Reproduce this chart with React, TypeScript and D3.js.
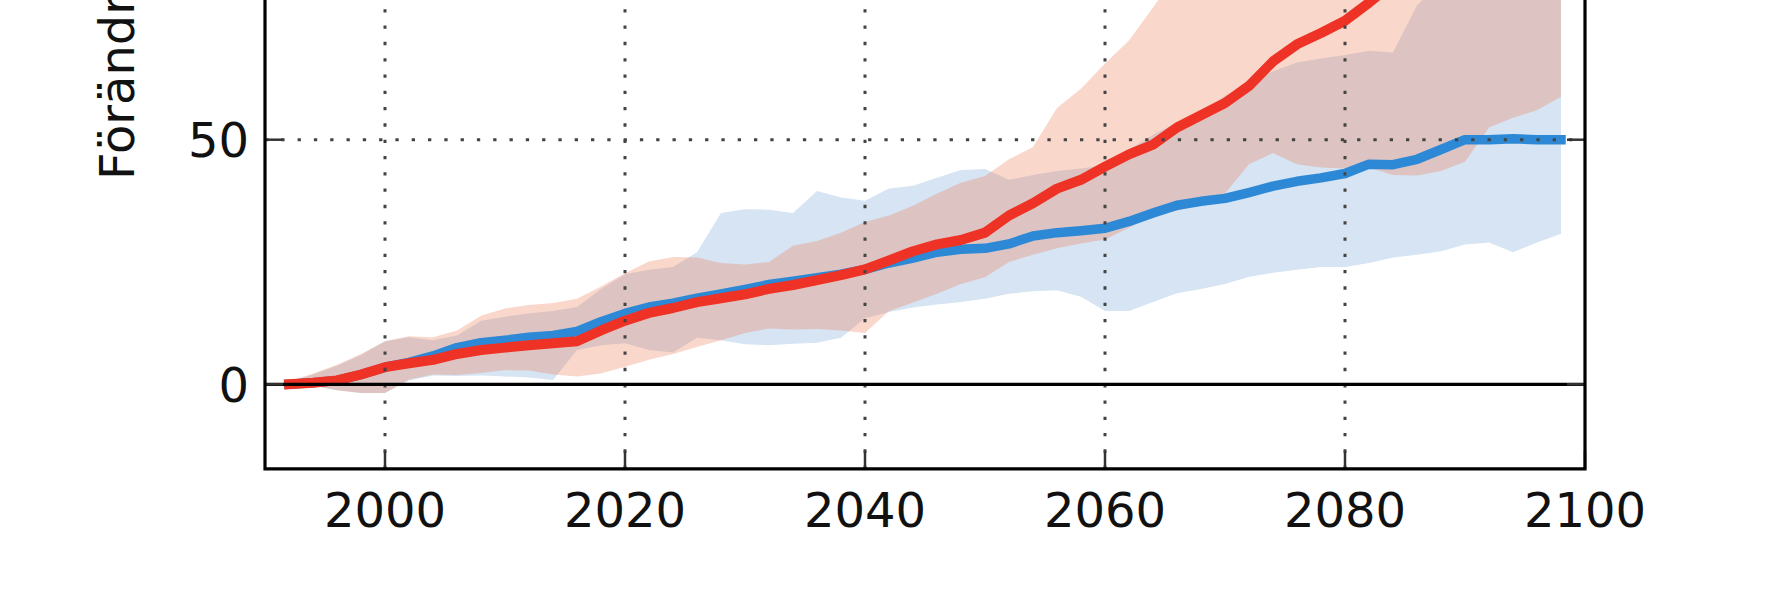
import React from "react";
import * as d3 from "d3";

const years = [
  1992, 1994, 1996, 1998, 2000, 2002, 2004, 2006, 2008, 2010, 2012, 2014, 2016, 2018,
  2020, 2022, 2024, 2026, 2028, 2030, 2032, 2034, 2036, 2038, 2040, 2042, 2044, 2046,
  2048, 2050, 2052, 2054, 2056, 2058, 2060, 2062, 2064, 2066, 2068, 2070, 2072, 2074,
  2076, 2078, 2080, 2082, 2084, 2086, 2088, 2090, 2092, 2094, 2096, 2098,
];

const redMid = [
  0.0, 0.3, 0.8, 2.0, 3.5, 4.3, 5.0, 6.2, 7.0, 7.5, 8.0, 8.4, 8.8, 11.0,
  13.0, 14.6, 15.6, 16.8, 17.6, 18.4, 19.5, 20.3, 21.3, 22.3, 23.5, 25.3, 27.2, 28.6,
  29.5, 31.0, 34.5, 37.0, 40.0, 41.8, 44.5, 47.0, 49.0, 52.5, 55.0, 57.5, 61.0, 66.0,
  69.5, 71.8, 74.3, 78.0, 82, 85, 88, 91, 94, 97, 100, 103,
];

const blueMid = [
  0.0, 0.3, 0.8, 2.0, 3.5, 4.5, 5.8, 7.5, 8.5, 9.0, 9.6, 10.0, 10.8, 12.8,
  14.5, 15.8, 16.6, 17.6, 18.5, 19.4, 20.4, 21.1, 21.8, 22.5, 23.5, 24.8, 25.8, 27.0,
  27.6, 27.8, 28.7, 30.3, 31.0, 31.4, 31.9, 33.3, 35.0, 36.6, 37.4, 38.0, 39.2, 40.5,
  41.5, 42.2, 43.1, 45.0, 44.9, 46.0, 48.0, 50.0, 50.0, 50.2, 50.0, 50.0,
];

const redHigh = [
  0.5, 2.2, 4.0, 6.2, 8.8, 9.8, 9.6, 11.0, 14.0, 15.5, 16.2, 16.6, 17.5, 20.0,
  22.7, 25.1, 26.0, 25.9, 24.8, 24.5, 25.0, 28.3, 29.3, 31.0, 33.2, 34.5, 36.5, 39.0,
  41.2, 42.6, 46.0, 48.5, 56.5, 60.4, 65.6, 70.3, 77.0, 84, 90, 95, 100, 104,
  108, 112, 116, 120, 124, 128, 130, 132, 134, 136, 138, 140,
];

const redLow = [
  -0.9, -0.3, -1.2, -1.8, -1.8, 1.0, 2.0, 1.9, 2.3, 2.9, 2.8, 2.0, 1.6, 2.2,
  3.6, 5.0, 6.2, 7.6, 9.0, 10.5, 11.4, 11.2, 11.3, 11.0, 10.5, 15.0, 16.7, 18.5,
  20.5, 21.9, 25.0, 26.5, 27.8, 28.8, 29.6, 32.0, 34.5, 35.5, 36.8, 39.0, 45.0, 47.3,
  45.0, 44.3, 44.1, 44.3, 42.8, 42.7, 43.6, 45.5, 52.5, 54.5, 56.0, 58.8,
];

const blueHigh = [
  0.5, 2.0, 3.8, 6.0, 8.8, 9.6, 9.0, 10.0, 13.0, 13.8, 14.5, 15.0, 15.8, 19.5,
  22.5, 23.4, 24.0, 27.0, 35.0, 35.8, 35.7, 35.0, 39.5, 38.2, 37.5, 40.0, 40.6, 42.2,
  43.8, 44.0, 41.8, 42.8, 43.6, 44.1, 44.8, 48.0, 51.0, 53.5, 55.5, 59.0, 61.0, 64.0,
  65.8, 66.6, 67.3, 68.2, 67.8, 77.5, 82, 84, 85, 86, 87, 88,
];

const blueLow = [
  -0.9, -0.3, -1.2, -1.8, -1.8, 0.8, 1.8, 1.7, 1.8, 1.6, 1.4, 0.9, 7.0, 8.0,
  8.4, 7.0, 6.5, 9.5, 9.0, 8.2, 8.0, 8.3, 8.5, 9.5, 13.5, 14.8, 15.7, 16.3,
  16.8, 17.5, 18.5, 19.0, 19.2, 17.9, 15.0, 15.0, 16.8, 18.6, 19.5, 20.5, 22.0, 22.8,
  23.4, 24.0, 24.0, 24.8, 25.9, 26.5, 27.2, 28.6, 29.0, 27.0, 29.0, 30.8,
];

const xTicks = [2000, 2020, 2040, 2060, 2080, 2100];
const yTicks = [0, 50];
const yLabel = "Förändring (%)";

export default function App() {
  const W = 1767;
  const H = 590;
  const x = d3.scaleLinear().domain([1990, 2100]).range([265, 1585]);
  const y = d3.scaleLinear().domain([0, 50]).range([384.3, 139.7]);
  const left = x(1990);
  const right = x(2100);
  const bottom = y(-17.3);
  const top = y(160);

  const area = (lo: number[], hi: number[]) =>
    d3
      .area<number>()
      .x((d) => x(d))
      .y0((_, i) => y(lo[i]))
      .y1((_, i) => y(hi[i]))(years) || "";
  const line = (v: number[]) =>
    d3
      .line<number>()
      .x((d) => x(d))
      .y((_, i) => y(v[i]))(years) || "";

  const font = "'DejaVu Sans', sans-serif";
  const dot = { stroke: "#444", strokeWidth: 3, strokeDasharray: "3.3 13" };
  const tickLen = 18;

  return (
    <svg
      width={W}
      height={H}
      style={{ position: "absolute", left: 0, top: 0, background: "#fff" }}
      xmlns="http://www.w3.org/2000/svg"
    >
      <defs>
        <clipPath id="plot">
          <rect x={left} y={top} width={right - left} height={bottom - top} />
        </clipPath>
      </defs>
      <rect x={0} y={0} width={W} height={H} fill="#fff" />
      <g clipPath="url(#plot)">
        <path d={area(blueLow, blueHigh)} fill="rgb(214,228,243)" stroke="none" />
        <path d={area(redLow, redHigh)} fill="rgb(238,122,82)" fillOpacity={0.3} stroke="none" />
        <path
          d={line(blueMid)}
          fill="none"
          stroke="#2d89d6"
          strokeWidth={9.5}
          strokeLinecap="square"
          strokeLinejoin="round"
        />
        <path
          d={line(redMid)}
          fill="none"
          stroke="#ee3226"
          strokeWidth={10}
          strokeLinecap="square"
          strokeLinejoin="round"
        />
      </g>
      {/* grid */}
      {xTicks
        .filter((t) => t < 2100)
        .map((t) => (
          <line key={"gx" + t} x1={x(t)} x2={x(t)} y1={bottom} y2={top} {...dot} />
        ))}
      {yTicks
        .filter((t) => t > 0)
        .map((t) => (
          <line key={"gy" + t} x1={left} x2={right} y1={y(t)} y2={y(t)} {...dot} />
        ))}
      {/* zero line */}
      <line x1={left} x2={right} y1={y(0)} y2={y(0)} stroke="#000" strokeWidth={3.2} />
      {/* ticks */}
      {xTicks.map((t) => (
        <line
          key={"tx" + t}
          x1={x(t)}
          x2={x(t)}
          y1={bottom}
          y2={bottom - tickLen}
          stroke="#333"
          strokeWidth={2.5}
        />
      ))}
      {yTicks.map((t) => (
        <g key={"ty" + t}>
          <line x1={left} x2={left + tickLen} y1={y(t)} y2={y(t)} stroke="#333" strokeWidth={2.5} />
          <line x1={right} x2={right - tickLen} y1={y(t)} y2={y(t)} stroke="#333" strokeWidth={2.5} />
        </g>
      ))}
      {/* spines */}
      <path
        d={`M${left},${top} L${left},${bottom} L${right},${bottom} L${right},${top}`}
        fill="none"
        stroke="#000"
        strokeWidth={3.2}
      />
      {/* tick labels */}
      {xTicks.map((t) => (
        <text
          key={"lx" + t}
          x={x(t)}
          y={527}
          textAnchor="middle"
          fontFamily={font}
          fontSize={48}
          fill="#111"
        >
          {t}
        </text>
      ))}
      {yTicks.map((t) => (
        <text
          key={"ly" + t}
          x={249}
          y={y(t) + 17.5}
          textAnchor="end"
          fontFamily={font}
          fontSize={48}
          fill="#111"
        >
          {t}
        </text>
      ))}
      <text
        transform={`translate(134,180) rotate(-90)`}
        textAnchor="start"
        fontFamily={font}
        fontSize={48}
        fill="#111"
      >
        {yLabel}
      </text>
    </svg>
  );
}
